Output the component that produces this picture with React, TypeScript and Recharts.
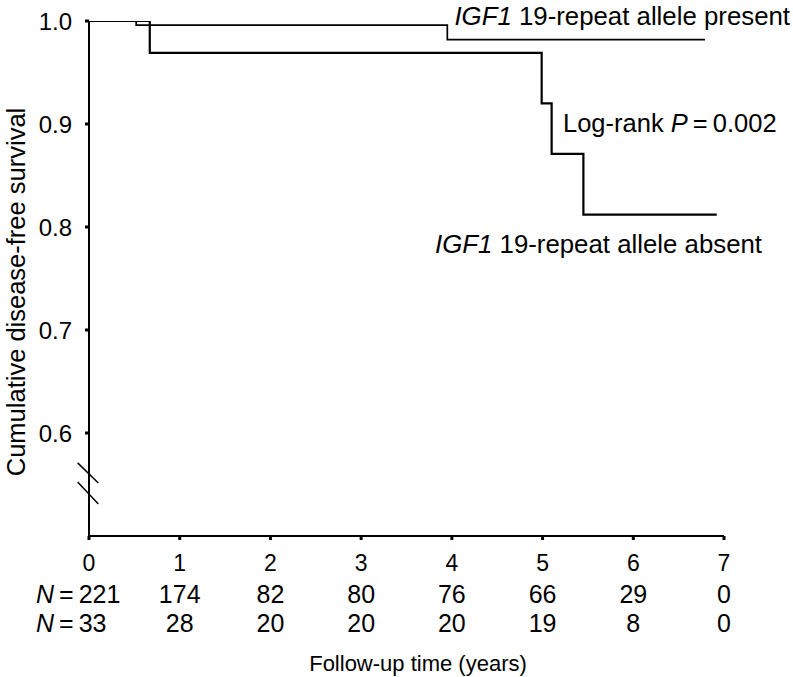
import { Customized, Line, LineChart, ReferenceLine, XAxis, YAxis } from 'recharts';

const FONT = '"Liberation Sans", Arial, Helvetica, sans-serif';

// follow-up time ticks (years) and number at risk below each tick
const xTicks = [0, 1, 2, 3, 4, 5, 6, 7];
const atRiskPresent = [221, 174, 82, 80, 76, 66, 29, 0];
const atRiskAbsent = [33, 28, 20, 20, 20, 19, 8, 0];

const yTicks = [0.6, 0.7, 0.8, 0.9, 1.0];

// Kaplan-Meier steps
const presentTimes = [0, 0.52, 3.95, 6.79];
const presentSurvival = [1.0, 0.996, 0.982, 0.982];

const absentTimes = [0, 0.67, 4.99, 5.1, 5.45, 6.92];
const absentSurvival = [1.0, 0.969, 0.92, 0.871, 0.812, 0.812];

const presentData = presentTimes.map((t, i) => ({ t, s: presentSurvival[i] }));
const absentData = absentTimes.map((t, i) => ({ t, s: absentSurvival[i] }));

function XTick(props: any) {
  const { x, y, payload } = props;
  const i = xTicks.indexOf(payload.value);
  const first = i === 0;
  const row = (n: number, dy: number) =>
    first ? (
      <text x={36} y={y + dy} textAnchor="start" fontSize={25} fontFamily={FONT} fill="#000">
        <tspan fontStyle="italic">N</tspan>
        {'\u2009=\u2009' + n}
      </text>
    ) : (
      <text x={x} y={y + dy} textAnchor="middle" fontSize={25} fontFamily={FONT} fill="#000">
        {n}
      </text>
    );
  return (
    <g>
      <text x={x} y={y + 31} textAnchor="middle" fontSize={23} fontFamily={FONT} fill="#000">
        {payload.value}
      </text>
      {row(atRiskPresent[i], 63)}
      {row(atRiskAbsent[i], 92)}
    </g>
  );
}

function Annotations() {
  return (
    <g fontFamily={FONT} fill="#000">
      <text x={790} y={25} fontSize={25.8} textAnchor="end">
        <tspan fontStyle="italic">IGF1</tspan> 19-repeat allele present
      </text>
      <text x={563} y={132} fontSize={25.5}>
        Log-rank <tspan fontStyle="italic">P</tspan>
        {'\u2009=\u20090.002'}
      </text>
      <text x={762} y={253} fontSize={25.8} textAnchor="end">
        <tspan fontStyle="italic">IGF1</tspan> 19-repeat allele absent
      </text>
      <text x={418} y={671} fontSize={22} textAnchor="middle">
        Follow-up time (years)
      </text>
      <text
        x={0}
        y={0}
        fontSize={25.5}
        textAnchor="middle"
        transform="translate(25, 292) rotate(-90)"
      >
        Cumulative disease-free survival
      </text>
    </g>
  );
}

export default function App() {
  return (
    <div style={{ position: 'absolute', left: 0, top: 0, background: '#fff' }}>
      <LineChart width={793} height={677} margin={{ top: 21, right: 69, bottom: 0, left: 0 }}>
        <XAxis
          type="number"
          dataKey="t"
          domain={[0, 7]}
          ticks={xTicks}
          interval={0}
          height={141}
          tickSize={4}
          tickMargin={0}
          tick={<XTick />}
          tickLine={{ stroke: '#000', strokeWidth: 3 }}
          axisLine={{ stroke: '#000', strokeWidth: 2 }}
          allowDataOverflow
        />
        <YAxis
          type="number"
          domain={[0.5, 1]}
          ticks={yTicks}
          interval={0}
          width={89}
          tickSize={4}
          tickMargin={13}
          tickFormatter={(v: number) => v.toFixed(1)}
          tick={{ fill: '#000', fontSize: 24, fontFamily: FONT }}
          tickLine={{ stroke: '#000', strokeWidth: 3 }}
          axisLine={{ stroke: '#000', strokeWidth: 2 }}
          allowDataOverflow
        />
        {/* axis break marks */}
        <ReferenceLine
          segment={[{ x: -0.125, y: 0.571 }, { x: 0.103, y: 0.5515 }]}
          stroke="#000"
          strokeWidth={1.5}
          ifOverflow="visible"
        />
        <ReferenceLine
          segment={[{ x: -0.125, y: 0.5524 }, { x: 0.103, y: 0.531 }]}
          stroke="#000"
          strokeWidth={1.5}
          ifOverflow="visible"
        />
        <Line
          data={presentData}
          dataKey="s"
          type="stepAfter"
          stroke="#000"
          strokeWidth={1.7}
          dot={false}
          activeDot={false}
          isAnimationActive={false}
        />
        <Line
          data={absentData}
          dataKey="s"
          type="stepAfter"
          stroke="#000"
          strokeWidth={2.2}
          dot={false}
          activeDot={false}
          isAnimationActive={false}
        />
        <Customized component={Annotations} />
      </LineChart>
    </div>
  );
}
